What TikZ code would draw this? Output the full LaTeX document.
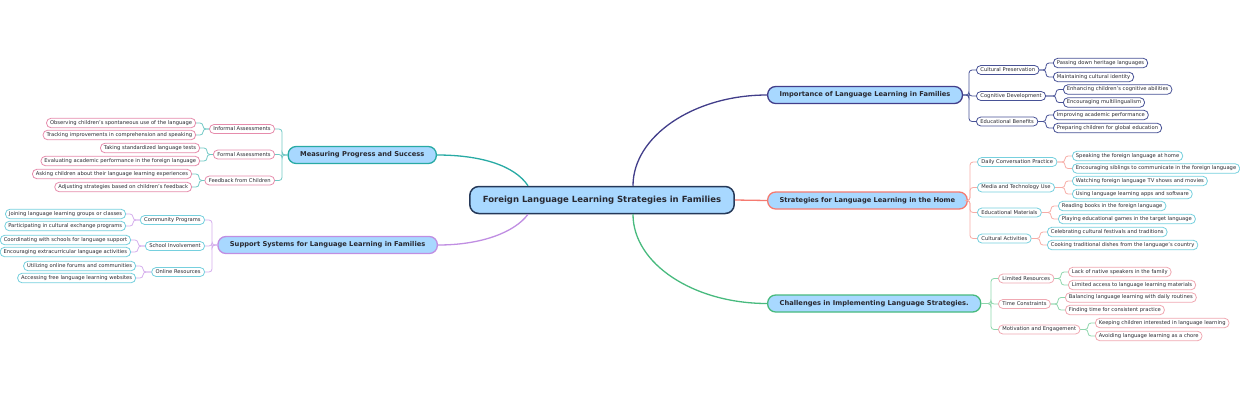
\documentclass[tikz,border=0pt]{standalone}
\usepackage{fontspec}
\setmainfont{DejaVu Sans}
\usetikzlibrary{positioning}

% colours of the map
\definecolor{topicfill}{RGB}{168,216,255}
\definecolor{rootline}{RGB}{36,56,88}
\definecolor{impline}{RGB}{66,62,138}
\definecolor{impsub}{RGB}{72,82,150}
\definecolor{strline}{RGB}{245,122,112}
\definecolor{strfork}{RGB}{246,172,166}
\definecolor{cyanbox}{RGB}{118,208,222}
\definecolor{chaline}{RGB}{72,186,126}
\definecolor{chafork}{RGB}{142,214,172}
\definecolor{pinkbox}{RGB}{240,168,178}
\definecolor{mealine}{RGB}{40,170,164}
\definecolor{meafork}{RGB}{112,200,196}
\definecolor{meabox}{RGB}{230,140,172}
\definecolor{supline}{RGB}{192,142,226}
\definecolor{supfork}{RGB}{212,172,236}
\definecolor{inktext}{RGB}{40,40,48}

\tikzset{
  central/.style={draw=rootline, fill=topicfill, line width=1.5pt, rounded corners=9pt,
    minimum height=27pt, inner xsep=13pt, inner ysep=0pt, text=inktext, font=\fontsize{8.5}{10}\selectfont\bfseries},
  topic/.style={fill=topicfill, line width=1.3pt, rounded corners=8pt,
    minimum height=17pt, inner xsep=12pt, inner ysep=0pt, text=inktext, font=\fontsize{6.7}{8}\selectfont\bfseries},
  subtopic/.style={fill=white, line width=0.8pt, rounded corners=4.5pt,
    minimum height=9pt, inner xsep=4pt, inner ysep=0pt, text=inktext, font=\fontsize{5.2}{6}\selectfont},
  leaf/.style={fill=white, line width=0.8pt, rounded corners=4.5pt,
    minimum height=9.5pt, inner xsep=3.5pt, inner ysep=0pt, text=inktext, font=\fontsize{5.2}{6}\selectfont},
  link/.style={line width=1.3pt},
  fork/.style={line width=0.8pt, rounded corners=3pt},
}

\begin{document}
\begin{tikzpicture}[x=1pt,y=-1pt]
    \useasboundingbox (0,0) rectangle (1240,400);

    % Central topic
    \node[central] (root) at (602,200) {Foreign Language Learning Strategies in Families};

    % Main topics
    \node[topic, draw=impline, anchor=west] (imp) at (767,95) {Importance of Language Learning in Families};
    \node[topic, draw=strline, anchor=west] (str) at (767,200.5) {Strategies for Language Learning in the Home};
    \node[topic, draw=chaline, anchor=west] (cha) at (767,303.5) {Challenges in Implementing Language Strategies.};
    \node[topic, draw=mealine, anchor=east] (mea) at (437,155) {Measuring Progress and Success};
    \node[topic, draw=supline, anchor=east] (sup) at (438,245) {Support Systems for Language Learning in Families};

    % Links from the centre
    \draw[link, impline] ([xshift=31]root.north) .. controls (633,136) and (694,95) .. (imp.west);
    \draw[link, strline] (root.east) -- (str.west);
    \draw[link, chaline] ([xshift=31]root.south) .. controls (633,264) and (694,303.5) .. (cha.west);
    \draw[link, mealine] (mea.east) .. controls (482,155) and (515,166) .. ([xshift=-74]root.north);
    \draw[link, supline] (sup.east) .. controls (482,245) and (515,232) .. ([xshift=-74]root.south);

    % Importance of language learning
    \foreach \name/\y/\txt in {cp/70/{Cultural Preservation}, cd/96/{Cognitive Development}, eb/121.5/{Educational Benefits}} {
        \node[subtopic, draw=impsub, anchor=west] (\name) at (976,\y) {\txt};
        \draw[fork, impsub] (imp.east) -| ([xshift=-7]\name.west) -- (\name.west);
    }
    \foreach \up/\name/\x/\y/\txt in {
        cp/cp1/1053/63/{Passing down heritage languages},
        cp/cp2/1053/77/{Maintaining cultural identity},
        cd/cd1/1063/89.5/{Enhancing children's cognitive abilities},
        cd/cd2/1063/102.5/{Encouraging multilingualism},
        eb/eb1/1053/115/{Improving academic performance},
        eb/eb2/1053/128/{Preparing children for global education}} {
        \node[leaf, draw=impsub, anchor=west] (\name) at (\x,\y) {\txt};
        \draw[fork, impsub] (\up.east) -| ([xshift=-7]\name.west) -- (\name.west);
    }

    % Strategies in the home
    \foreach \name/\y/\txt in {dc/162/{Daily Conversation Practice}, mt/187.5/{Media and Technology Use}, em/212.5/{Educational Materials}, ca/238.5/{Cultural Activities}} {
        \node[subtopic, draw=cyanbox, anchor=west] (\name) at (977,\y) {\txt};
        \draw[fork, strfork] (str.east) -| ([xshift=-7]\name.west) -- (\name.west);
    }
    \foreach \up/\name/\x/\y/\txt in {
        dc/dc1/1072/156/{Speaking the foreign language at home},
        dc/dc2/1072/168.5/{Encouraging siblings to communicate in the foreign language},
        mt/mt1/1072/181/{Watching foreign language TV shows and movies},
        mt/mt2/1072/194/{Using language learning apps and software},
        em/em1/1058/206/{Reading books in the foreign language},
        em/em2/1058/219/{Playing educational games in the target language},
        ca/ca1/1047/232/{Celebrating cultural festivals and traditions},
        ca/ca2/1047/245/{Cooking traditional dishes from the language's country}} {
        \node[leaf, draw=cyanbox, anchor=west] (\name) at (\x,\y) {\txt};
        \draw[fork, strfork] (\up.east) -| ([xshift=-7]\name.west) -- (\name.west);
    }

    % Challenges
    \foreach \name/\y/\txt in {lr/278.5/{Limited Resources}, tc/304/{Time Constraints}, me/329.5/{Motivation and Engagement}} {
        \node[subtopic, draw=pinkbox, anchor=west] (\name) at (998,\y) {\txt};
        \draw[fork, chafork] (cha.east) -| ([xshift=-7]\name.west) -- (\name.west);
    }
    \foreach \up/\name/\x/\y/\txt in {
        lr/lr1/1068/272/{Lack of native speakers in the family},
        lr/lr2/1068/285/{Limited access to language learning materials},
        tc/tc1/1065/297.5/{Balancing language learning with daily routines},
        tc/tc2/1065/310/{Finding time for consistent practice},
        me/me1/1095/323/{Keeping children interested in language learning},
        me/me2/1095/336/{Avoiding language learning as a chore}} {
        \node[leaf, draw=pinkbox, anchor=west] (\name) at (\x,\y) {\txt};
        \draw[fork, chafork] (\up.east) -| ([xshift=-7]\name.west) -- (\name.west);
    }

    % Measuring progress
    \foreach \name/\y/\txt in {ia/129/{Informal Assessments}, fa/154.5/{Formal Assessments}, fc/180.5/{Feedback from Children}} {
        \node[subtopic, draw=meabox, anchor=east] (\name) at (275,\y) {\txt};
        \draw[fork, meafork] (mea.west) -| ([xshift=7]\name.east) -- (\name.east);
    }
    \foreach \up/\name/\x/\y/\txt in {
        ia/ia1/196/123/{Observing children's spontaneous use of the language},
        ia/ia2/196/135/{Tracking improvements in comprehension and speaking},
        fa/fa1/200/148/{Taking standardized language tests},
        fa/fa2/200/161/{Evaluating academic performance in the foreign language},
        fc/fc1/192/174/{Asking children about their language learning experiences},
        fc/fc2/192/187/{Adjusting strategies based on children's feedback}} {
        \node[leaf, draw=meabox, anchor=east] (\name) at (\x,\y) {\txt};
        \draw[fork, meafork] (\up.west) -| ([xshift=7]\name.east) -- (\name.east);
    }

    % Support systems
    \foreach \name/\y/\txt in {cm/220/{Community Programs}, si/246/{School Involvement}, or/272/{Online Resources}} {
        \node[subtopic, draw=cyanbox, anchor=east] (\name) at (205,\y) {\txt};
        \draw[fork, supfork] (sup.west) -| ([xshift=7]\name.east) -- (\name.east);
    }
    \foreach \up/\name/\x/\y/\txt in {
        cm/cm1/126/214/{Joining language learning groups or classes},
        cm/cm2/126/226/{Participating in cultural exchange programs},
        si/si1/131/240/{Coordinating with schools for language support},
        si/si2/131/252/{Encouraging extracurricular language activities},
        or/or1/136/266/{Utilizing online forums and communities},
        or/or2/136/278/{Accessing free language learning websites}} {
        \node[leaf, draw=cyanbox, anchor=east] (\name) at (\x,\y) {\txt};
        \draw[fork, supfork] (\up.west) -| ([xshift=7]\name.east) -- (\name.east);
    }

\end{tikzpicture}
\end{document}
